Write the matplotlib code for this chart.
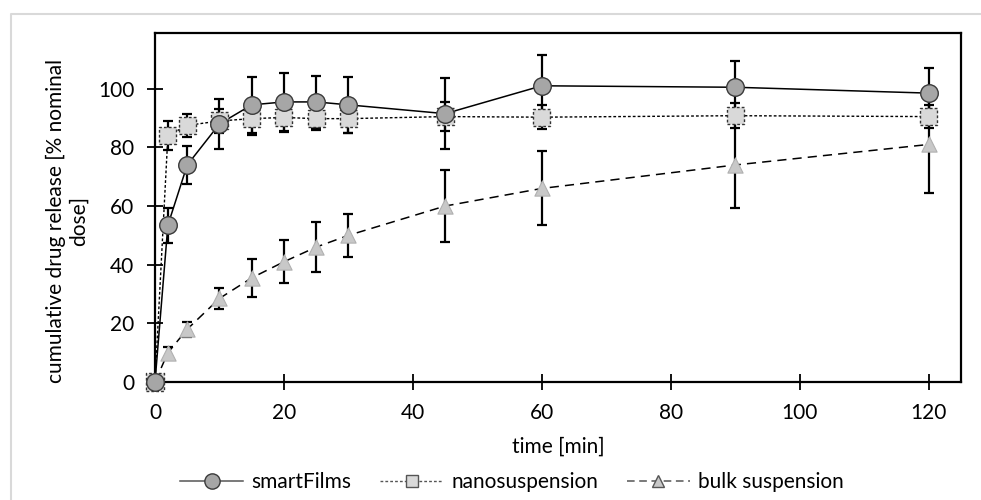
import matplotlib
matplotlib.use("Agg")
from matplotlib import pyplot as plt
from matplotlib.lines import Line2D

plt.rcParams["font.family"] = ["Lato", "DejaVu Sans"]

t = [0, 2, 5, 10, 15, 20, 25, 30, 45, 60, 90, 120]

films = [0, 53.5, 74, 88, 94.5, 95.5, 95.5, 94.5, 91.5, 101, 100.5, 98.5]
films_err = [0, 6, 6.5, 8.5, 9.5, 10, 9, 9.5, 12, 10.5, 9, 8.5]

nano = [0, 84, 87.5, 89, 89.8, 90.2, 89.8, 89.8, 90.5, 90.3, 90.8, 90.5]
nano_err = [0, 5, 4, 4, 5.5, 5, 4, 5, 5, 4, 4.3, 4]

bulk = [0, 10, 18, 28.5, 35.5, 41, 46, 50, 60, 66, 74, 81]
bulk_err = [0, 2, 2.5, 3.5, 6.5, 7.4, 8.4, 7.4, 12.3, 12.6, 14.7, 16.5]

labels = ["smartFilms", "nanosuspension", "bulk suspension"]

fig = plt.figure(figsize=(9.81, 5.0), dpi=100)
ax = fig.add_axes([155 / 981, 118 / 500, 806 / 981, 349 / 500])

# light grey frame round the figure
fig.add_artist(Line2D([11 / 981, 11 / 981, 1.0], [0.0, 1 - 14 / 500, 1 - 14 / 500],
                      transform=fig.transFigure, color="#d9d9d9", lw=1.5))

eb = dict(fmt="none", ecolor="black", elinewidth=1.6, capsize=3.5, capthick=1.6, zorder=2)
ax.errorbar(t, films, yerr=films_err, **eb)
ax.errorbar(t, nano, yerr=nano_err, **eb)
ax.errorbar(t, bulk, yerr=bulk_err, **eb)

ax.plot(t, bulk, color="black", lw=1.1, linestyle=(0, (6, 4)), zorder=3)
ax.scatter(t, bulk, marker="^", s=120, facecolor="#c8c8c8", edgecolor="#b0b0b0",
           linewidths=0.8, zorder=4, clip_on=False)

ax.plot(t, nano, color="black", lw=1.0, linestyle=(0, (2, 1.5)), zorder=3)
ax.scatter(t, nano, marker="s", s=150, facecolor="#d9d9d9", edgecolor="#333333",
           linewidths=1.0, linestyle=(0, (2, 1.5)), zorder=5, clip_on=False)

ax.plot(t, films, color="black", lw=1.1, zorder=3)
ax.scatter(t, films, marker="o", s=160, facecolor="#a6a6a6", edgecolor="#3a3a3a",
           linewidths=1.0, zorder=6, clip_on=False)

ax.set_xlim(0, 125)
ax.set_ylim(0, 119)
ax.set_xticks(range(0, 121, 20))
ax.set_yticks(range(0, 101, 20))
ax.tick_params(direction="inout", length=12, width=1.3, labelsize=15, pad=9)
for s in ax.spines.values():
    s.set_linewidth(1.6)

ax.set_xlabel("time [min]", fontsize=15, labelpad=10)
ax.set_ylabel("cumulative drug release [% nominal\ndose]", fontsize=15,
              va="center", multialignment="center")
ax.yaxis.set_label_coords(-0.1086, 0.461)

handles = [
    Line2D([], [], color="#555555", lw=1.1, marker="o", markersize=11,
           markerfacecolor="#a6a6a6", markeredgecolor="#3a3a3a"),
    Line2D([], [], color="#555555", lw=1.0, linestyle=(0, (2, 1.5)), marker="s",
           markersize=9, markerfacecolor="#d9d9d9", markeredgecolor="#555555"),
    Line2D([], [], color="#555555", lw=1.1, linestyle=(0, (5, 3)), marker="^",
           markersize=8, markerfacecolor="#c8c8c8", markeredgecolor="#555555"),
]
fig.legend(handles, labels, loc="center", bbox_to_anchor=(512 / 981, 1 - 482 / 500),
           ncol=3, frameon=False, fontsize=15, handlelength=3.0, columnspacing=1.4,
           handletextpad=0.4)

fig.savefig("out.png", dpi=100)
